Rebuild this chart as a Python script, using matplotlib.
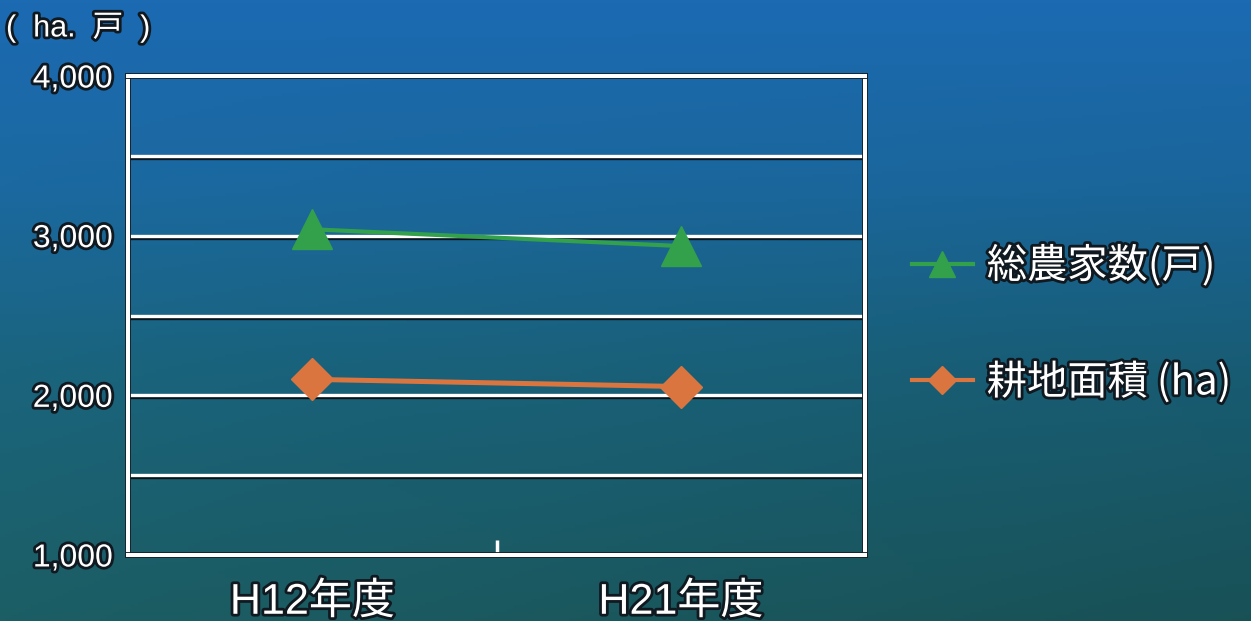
import numpy as np
import matplotlib
matplotlib.use("Agg")
import matplotlib.pyplot as plt
import matplotlib.patheffects as pe
from matplotlib.lines import Line2D

plt.rcParams['font.family'] = ['Liberation Sans', 'Noto Sans CJK JP', 'DejaVu Sans']

# --- data ---
years = ["H12年度", "H21年度"]
farm_households = [3040, 2935]   # 総農家数(戸)
farmland_area = [2100, 2055]     # 耕地面積 (ha)
series_labels = ["総農家数(戸)", "耕地面積 (ha)"]
y_ticks = [1000, 2000, 3000, 4000]
y_tick_labels = ["1,000", "2,000", "3,000", "4,000"]
grid_levels = [1500, 2000, 2500, 3000, 3500]
unit_label = "(  ha.  戸  )"

GREEN = "#33a04c"
ORANGE = "#da7540"
OUTLINE = [pe.withStroke(linewidth=4, foreground="#101820")]

W, H, DPI = 1251, 621, 100
fig = plt.figure(figsize=(W / DPI, H / DPI), dpi=DPI)

# background gradient: blue at top fading to teal at the bottom
bg = fig.add_axes([0, 0, 1, 1], zorder=-10)
bg.set_axis_off()
ny, nx = 200, 200
t = np.linspace(0, 1, ny)[:, None]
s = np.linspace(0, 1, nx)[None, :]
stops_t = [0.0, 0.3, 0.6, 1.0]
stops_c = np.array([[28, 106, 178], [27, 105, 160], [26, 100, 125], [28, 94, 100]]) / 255
img = np.zeros((ny, nx, 3))
for c in range(3):
    img[..., c] = np.interp(t[:, 0], stops_t, stops_c[:, c])[:, None] * np.ones((1, nx))
shade = 1 - 0.14 * s * t
img *= shade[..., None]
bg.imshow(img, aspect="auto", extent=[0, 1, 0, 1], origin="upper")
bg.set_xlim(0, 1)
bg.set_ylim(0, 1)

# plotting area
left, right = 128 / W, 865 / W
top, bottom = 1 - 76 / H, 1 - 555 / H
ax = fig.add_axes([left, bottom, right - left, top - bottom])
ax.patch.set_alpha(0)
ax.set_xlim(0, 2)
ax.set_ylim(1000, 4000)

for lvl in grid_levels:
    ax.axhline(lvl, color="white", lw=2.4, zorder=1,
               path_effects=[pe.SimpleLineShadow(offset=(0, -1.5), shadow_color="black", alpha=0.8),
                             pe.Normal()])

for sp in ax.spines.values():
    sp.set_color("white")
    sp.set_linewidth(2.8)
    sp.set_path_effects([pe.withStroke(linewidth=4.2, foreground="#15222a"), pe.Normal()])

x = np.arange(len(years)) + 0.5
ax.plot(x, farm_households, color=GREEN, lw=3.0, marker="^", ms=29, zorder=5)
ax.plot(x, farmland_area, color=ORANGE, lw=3.6, marker="D", ms=21, zorder=5)

ax.set_yticks(y_ticks)
ax.set_yticklabels(y_tick_labels)
ax.tick_params(axis="y", length=0, pad=11, labelsize=23, labelcolor="white")
for lab in ax.get_yticklabels():
    lab.set_path_effects(OUTLINE)

# category labels under the axis, single tick between categories
ax.set_xticks([1.0])
ax.set_xticklabels([""])
ax.tick_params(axis="x", direction="in", length=11, width=2.5, color="white")
for xi, name in zip(x, years):
    ax.text(xi, -0.058, name, transform=ax.get_xaxis_transform(), ha="center", va="top",
            fontsize=31, color="white", path_effects=OUTLINE,
            family=['Liberation Sans', 'Noto Sans CJK JP'])

fig.text(6 / W, 1 - 28 / H, unit_label, fontsize=22, color="white", va="center", ha="left",
         path_effects=OUTLINE,
         family=['Liberation Sans', 'Noto Sans CJK JP'])

handles = [
    Line2D([], [], color=GREEN, lw=3, marker="^", ms=19),
    Line2D([], [], color=ORANGE, lw=3, marker="D", ms=14),
]
leg = fig.legend(handles, series_labels, loc="center left",
                 bbox_to_anchor=(876 / W, 1 - 324 / H), frameon=False,
                 handlelength=1.5, handletextpad=0.35, labelspacing=1.85,
                 prop={'family': ['Noto Sans CJK JP', 'Liberation Sans'], 'size': 29})
for txt in leg.get_texts():
    txt.set_color("white")
    txt.set_path_effects(OUTLINE)

fig.savefig("out.png", dpi=DPI)
